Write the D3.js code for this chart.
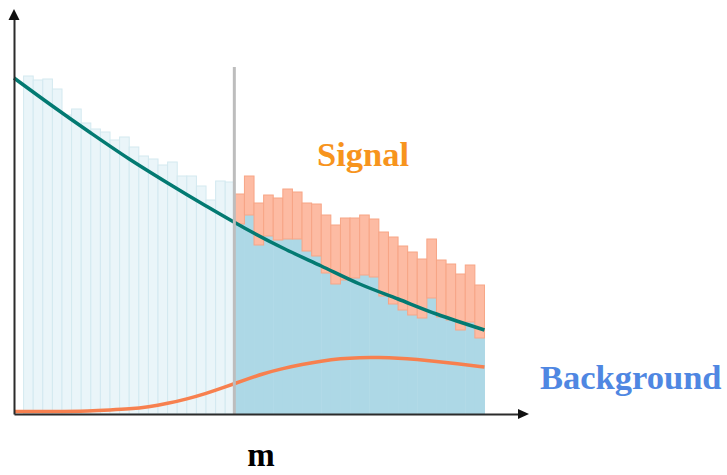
<!DOCTYPE html>
<html>
<head>
<meta charset="utf-8">
<script src="https://cdn.jsdelivr.net/npm/d3@7"></script>
<style>
  html, body { margin: 0; padding: 0; background: #ffffff; }
  svg { display: block; }
</style>
</head>
<body>
<svg id="chart" width="727" height="475"></svg>
<script>
// ---- data ----
// control region bins 1..22 (background only)
const controlBins = [1,2,3,4,5,6,7,8,9,10,11,12,13,14,15,16,17,18,19,20,21,22];
const controlCounts = [338, 334, 335, 325, 299, 305, 291, 285, 282, 274, 277, 267, 258, 255, 249, 252, 238, 238, 228, 214, 233, 232];
// signal region bins 23..48
const signalBins = [23,24,25,26,27,28,29,30,31,32,33,34,35,36,37,38,39,40,41,42,43,44,45,46,47,48];
const totalCounts = [220, 238, 211, 219, 216, 225, 222, 211, 210, 199, 189, 196, 196, 199, 195, 182, 177, 168, 162, 155, 175, 154, 150, 140, 149, 129];
const backgroundCounts = [190, 199, 169, 178, 174, 175, 175, 163, 158, 141, 130, 134, 136, 139, 137, 118, 110, 104, 99, 96, 116, 97, 94, 84, 92, 76];
// fitted background curve (m, value)
const bgCurveM = [0, 4, 8, 12, 16, 20, 24, 28, 32, 36, 40, 44, 49];
const bgCurveV = [336, 308, 281, 255, 231, 208, 186, 166, 148, 130, 115, 100, 84];
// signal shape curve (m, value)
const sigCurveM = [0, 4, 8, 10, 12, 14, 16, 18, 20, 22, 24, 26, 28, 30, 32, 34, 36, 38, 40, 42, 44, 46, 49];
const sigCurveV = [2.5, 2.5, 3, 4, 5, 7, 10.5, 15, 20.5, 27, 34, 40.5, 45.5, 49.5, 53, 55.5, 56.5, 56.5, 56, 54.5, 52.5, 50.5, 47];
const cutM = 23;
const labels = { signal: "Signal", background: "Background", xLabel: "m" };

// ---- drawing ----
const svg = d3.select("#chart");
const x = d3.scaleLinear().domain([0, 52.7]).range([14, 520]);
const y = d3.scaleLinear().domain([0, 400]).range([414, 14]);

// control region bars
svg.append("g").selectAll("rect").data(controlBins).join("rect")
  .attr("x", d => x(d))
  .attr("width", d => x(d + 1) - x(d))
  .attr("y", (d, i) => y(controlCounts[i]))
  .attr("height", (d, i) => y(0) - y(controlCounts[i]))
  .attr("fill", "#eaf5f9")
  .attr("stroke", "#d3e9f0")
  .attr("stroke-width", 1);

// signal region: background part
svg.append("g").selectAll("rect").data(signalBins).join("rect")
  .attr("x", d => x(d))
  .attr("width", d => x(d + 1) - x(d) + 0.5)
  .attr("y", (d, i) => y(backgroundCounts[i]))
  .attr("height", (d, i) => y(0) - y(backgroundCounts[i]))
  .attr("fill", "#add8e6");

// signal region: signal part stacked
svg.append("g").selectAll("rect").data(signalBins).join("rect")
  .attr("x", d => x(d))
  .attr("width", d => x(d + 1) - x(d))
  .attr("y", (d, i) => y(totalCounts[i]))
  .attr("height", (d, i) => Math.max(0, y(backgroundCounts[i]) - y(totalCounts[i])))
  .attr("fill", "#fdbba3")
  .attr("stroke", "#f7a586")
  .attr("stroke-width", 1);

// curves
const bgLine = d3.line().x((d, i) => x(bgCurveM[i])).y(d => y(d)).curve(d3.curveCatmullRom);
svg.append("path").datum(bgCurveV).attr("d", bgLine)
  .attr("fill", "none").attr("stroke", "#037a72").attr("stroke-width", 3.5);

const sigLine = d3.line().x((d, i) => x(sigCurveM[i])).y(d => y(d)).curve(d3.curveBasis);
svg.append("path").datum(sigCurveV).attr("d", sigLine)
  .attr("fill", "none").attr("stroke", "#f7804f").attr("stroke-width", 3.5);

// cut line
svg.append("line")
  .attr("x1", x(cutM) - 0.5).attr("x2", x(cutM) - 0.5)
  .attr("y1", 67).attr("y2", y(0))
  .attr("stroke", "#bdbdbd").attr("stroke-width", 3);

// axes (no ticks) with arrowheads
const xAxis = d3.axisBottom(x).ticks(0).tickSizeOuter(0);
const gx = svg.append("g").attr("transform", `translate(0,${y(0)})`).call(xAxis);
gx.select(".domain").attr("stroke", "#2b2b2b").attr("stroke-width", 2);
const yAxis = d3.axisLeft(d3.scaleLinear().domain([0, 1]).range([y(0), 19])).ticks(0).tickSizeOuter(0);
const gy = svg.append("g").attr("transform", `translate(${x(0)},0)`).call(yAxis);
gy.select(".domain").attr("stroke", "#2b2b2b").attr("stroke-width", 2);

const x0 = x(0), y0 = y(0), xEnd = x.range()[1];
svg.append("path")
  .attr("d", `M${xEnd - 2},${y0 - 5}L${xEnd + 9},${y0}L${xEnd - 2},${y0 + 5}Z`)
  .attr("fill", "#111");
svg.append("path")
  .attr("d", `M${x0 - 5.5},20L${x0},9L${x0 + 5.5},20Z`)
  .attr("fill", "#111");

// labels
const serif = "'Liberation Serif', 'DejaVu Serif', serif";
svg.append("text").attr("x", 317).attr("y", 166).text(labels.signal)
  .attr("font-family", serif).attr("font-weight", "bold").attr("font-size", 34.5)
  .attr("fill", "#f7941d");
svg.append("text").attr("x", 540).attr("y", 389).text(labels.background)
  .attr("font-family", serif).attr("font-weight", "bold").attr("font-size", 34.5)
  .attr("fill", "#4f87e2");
svg.append("text").attr("x", 261).attr("y", 466).attr("text-anchor", "middle").text(labels.xLabel)
  .attr("font-family", serif).attr("font-weight", "bold").attr("font-size", 33)
  .attr("fill", "#000");
</script>
</body>
</html>
